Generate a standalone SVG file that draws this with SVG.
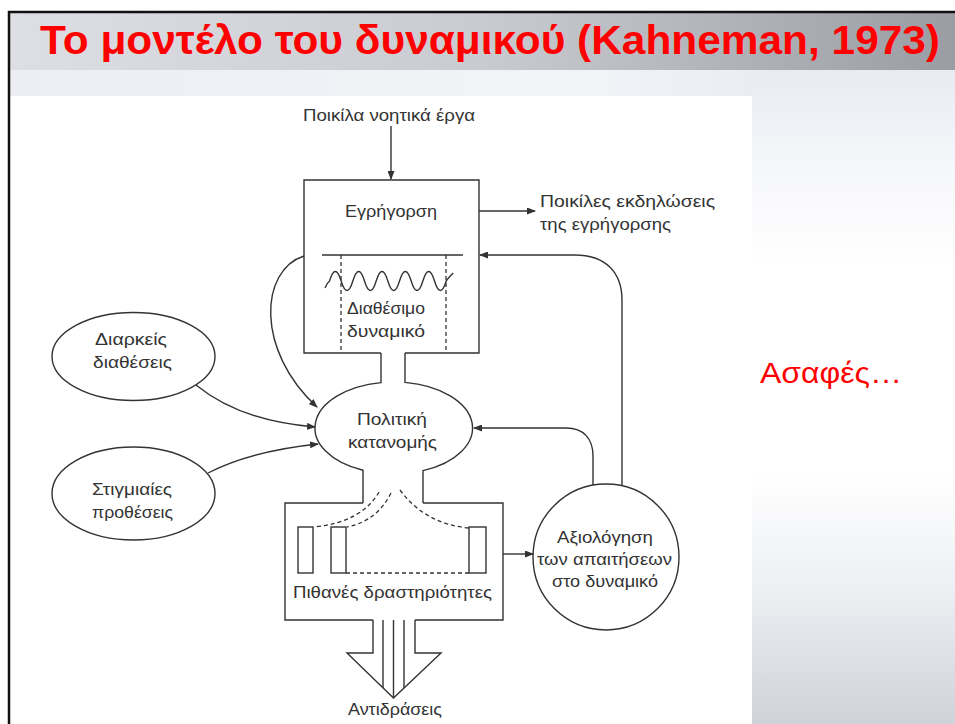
<svg xmlns="http://www.w3.org/2000/svg" width="955" height="724" viewBox="0 0 955 724">
<defs>
<linearGradient id="gTitle" x1="0" y1="0" x2="1" y2="0">
<stop offset="0" stop-color="#dddfe4"/>
<stop offset="0.5" stop-color="#c9cbd1"/>
<stop offset="1" stop-color="#9b9da4"/>
</linearGradient>
<linearGradient id="gStrip" x1="0" y1="0" x2="1" y2="0">
<stop offset="0" stop-color="#eceef3"/>
<stop offset="0.6" stop-color="#f3f4f8"/>
<stop offset="1" stop-color="#e2e4ec"/>
</linearGradient>
<linearGradient id="gSide" x1="0" y1="0" x2="0" y2="1">
<stop offset="0" stop-color="#e9ebf2"/>
<stop offset="0.15" stop-color="#f6f7fa"/>
<stop offset="0.3" stop-color="#ffffff"/>
<stop offset="0.62" stop-color="#ffffff"/>
<stop offset="0.8" stop-color="#eceef2"/>
<stop offset="1" stop-color="#cfd2d8"/>
</linearGradient>
<marker id="ah" markerUnits="userSpaceOnUse" markerWidth="9" markerHeight="7" refX="8" refY="3.5" orient="auto">
<path d="M0,0 L9,3.5 L0,7 z" fill="#333"/>
</marker>
<style>
.t{font-family:"Liberation Sans",Arial,sans-serif;font-size:17px;fill:#333}
.ln{fill:none;stroke:#333;stroke-width:1.4}
.dash{fill:none;stroke:#333;stroke-width:1.3;stroke-dasharray:4 3}
.arr{fill:none;stroke:#333;stroke-width:1.4;marker-end:url(#ah)}
</style>
</defs>

<!-- slide background -->
<rect x="0" y="0" width="955" height="724" fill="#ffffff"/>
<rect x="10" y="13" width="945" height="57" fill="url(#gTitle)"/>
<rect x="10" y="70" width="945" height="26" fill="url(#gStrip)"/>
<rect x="752" y="70" width="203" height="654" fill="url(#gSide)"/>
<rect x="10" y="96" width="742" height="628" fill="#ffffff"/>
<line x1="8" y1="12" x2="955" y2="12" stroke="#111" stroke-width="2.5"/>
<line x1="9" y1="11" x2="9" y2="724" stroke="#111" stroke-width="2.5"/>

<text x="40" y="54" font-family="'Liberation Sans',Arial,sans-serif" font-weight="bold" font-size="41" fill="#ff0000" textLength="900" lengthAdjust="spacingAndGlyphs">Το μοντέλο του δυναμικού (Kahneman, 1973)</text>
<text x="760" y="383" font-family="'Liberation Sans',Arial,sans-serif" font-size="29" fill="#ff0000" textLength="142" lengthAdjust="spacingAndGlyphs">Ασαφές…</text>

<!-- nodes -->
<g id="input-label">
<text class="t" x="303" y="121" textLength="172" lengthAdjust="spacingAndGlyphs">Ποικίλα νοητικά έργα</text>
</g>

<g id="arousal">
<path class="ln" d="M381 353 H304 V180 H479 V353 H405"/>
<text class="t" x="345" y="217" textLength="92" lengthAdjust="spacingAndGlyphs">Εγρήγορση</text>
<line class="ln" x1="322" y1="255" x2="463" y2="255"/>
<line class="dash" x1="341" y1="255" x2="341" y2="353"/>
<line class="dash" x1="446" y1="255" x2="446" y2="353"/>
<path class="ln" stroke-width="2.4" d="M325 288 Q327 283 329.5 281 q5.83 -19 11.67 0 t11.67 0 t11.67 0 t11.67 0 t11.67 0 t11.67 0 t11.67 0 t11.67 0 t11.67 0 t11.67 0 c2 -3 4 -5 7 -8"/>
<text class="t" x="347" y="314" textLength="78" lengthAdjust="spacingAndGlyphs">Διαθέσιμο</text>
<text class="t" x="347" y="337" textLength="78" lengthAdjust="spacingAndGlyphs">δυναμικό</text>
</g>

<g id="arousal-output-label">
<text class="t" x="540" y="207" textLength="175" lengthAdjust="spacingAndGlyphs">Ποικίλες εκδηλώσεις</text>
<text class="t" x="540" y="230" textLength="131" lengthAdjust="spacingAndGlyphs">της εγρήγορσης</text>
</g>

<g id="allocation-policy">
<path class="ln" d="M381 353 V382.6 A79 46 0 0 0 363 470.3 V503"/>
<path class="ln" d="M405 353 V382.4 A79 46 0 0 1 423 470.6 V503"/>
<text class="t" x="357" y="425" textLength="70" lengthAdjust="spacingAndGlyphs">Πολιτική</text>
<text class="t" x="348" y="448" textLength="89" lengthAdjust="spacingAndGlyphs">κατανομής</text>
</g>

<g id="enduring-dispositions">
<ellipse class="ln" cx="133.5" cy="356.5" rx="81.5" ry="44"/>
<text class="t" x="95" y="345" textLength="72" lengthAdjust="spacingAndGlyphs">Διαρκείς</text>
<text class="t" x="93" y="368" textLength="79" lengthAdjust="spacingAndGlyphs">διαθέσεις</text>
</g>

<g id="momentary-intentions">
<ellipse class="ln" cx="133.5" cy="493.5" rx="81.5" ry="46.5"/>
<text class="t" x="92" y="495" textLength="80" lengthAdjust="spacingAndGlyphs">Στιγμιαίες</text>
<text class="t" x="92" y="518" textLength="81" lengthAdjust="spacingAndGlyphs">προθέσεις</text>
</g>

<g id="possible-activities">
<path class="ln" d="M363 503 H285 V620 H373"/>
<path class="ln" d="M423 503 H503 V620 H415"/>
<rect class="ln" x="298" y="527" width="15" height="46"/>
<rect class="ln" x="331" y="527" width="15" height="46"/>
<rect class="ln" x="469" y="527" width="17" height="46"/>
<line class="dash" x1="346" y1="573" x2="469" y2="573"/>
<path class="dash" d="M379 492 Q362 522 314 527"/>
<path class="dash" d="M391 493 Q377 521 347 527"/>
<path class="dash" d="M400 490 Q425 524 469 528"/>
<text class="t" x="293" y="598" textLength="199" lengthAdjust="spacingAndGlyphs">Πιθανές δραστηριότητες</text>
</g>

<g id="responses">
<path class="ln" d="M373 620 V653 H347 L393.5 698 L441 653 H415 V620"/>
<line class="ln" x1="383" y1="620" x2="383" y2="688"/>
<line class="ln" x1="393.5" y1="620" x2="393.5" y2="698"/>
<line class="ln" x1="404" y1="620" x2="404" y2="688"/>
<text class="t" x="348" y="715" textLength="94" lengthAdjust="spacingAndGlyphs">Αντιδράσεις</text>
</g>

<g id="evaluation">
<circle class="ln" cx="606" cy="557" r="73"/>
<text class="t" x="557" y="543" textLength="96" lengthAdjust="spacingAndGlyphs">Αξιολόγηση</text>
<text class="t" x="537" y="565" textLength="135" lengthAdjust="spacingAndGlyphs">των απαιτήσεων</text>
<text class="t" x="552" y="587" textLength="106" lengthAdjust="spacingAndGlyphs">στο δυναμικό</text>
</g>

<!-- connectors -->
<g id="connectors">
<path class="arr" d="M391 126 V179"/>
<path class="arr" d="M479 211 H535"/>
<path class="arr" d="M304 256 C260 270 255 350 317 407"/>
<path class="arr" d="M196 385 Q240 421 315 427"/>
<path class="arr" d="M208 473 Q251 451 318 444"/>
<path class="arr" d="M503 554 H533"/>
<path class="arr" d="M593 485 V456 C593 439 584 428 566 428 H474"/>
<path class="arr" d="M622 486 V300 C622 272 605 255 575 255 H480"/>
</g>
</svg>
